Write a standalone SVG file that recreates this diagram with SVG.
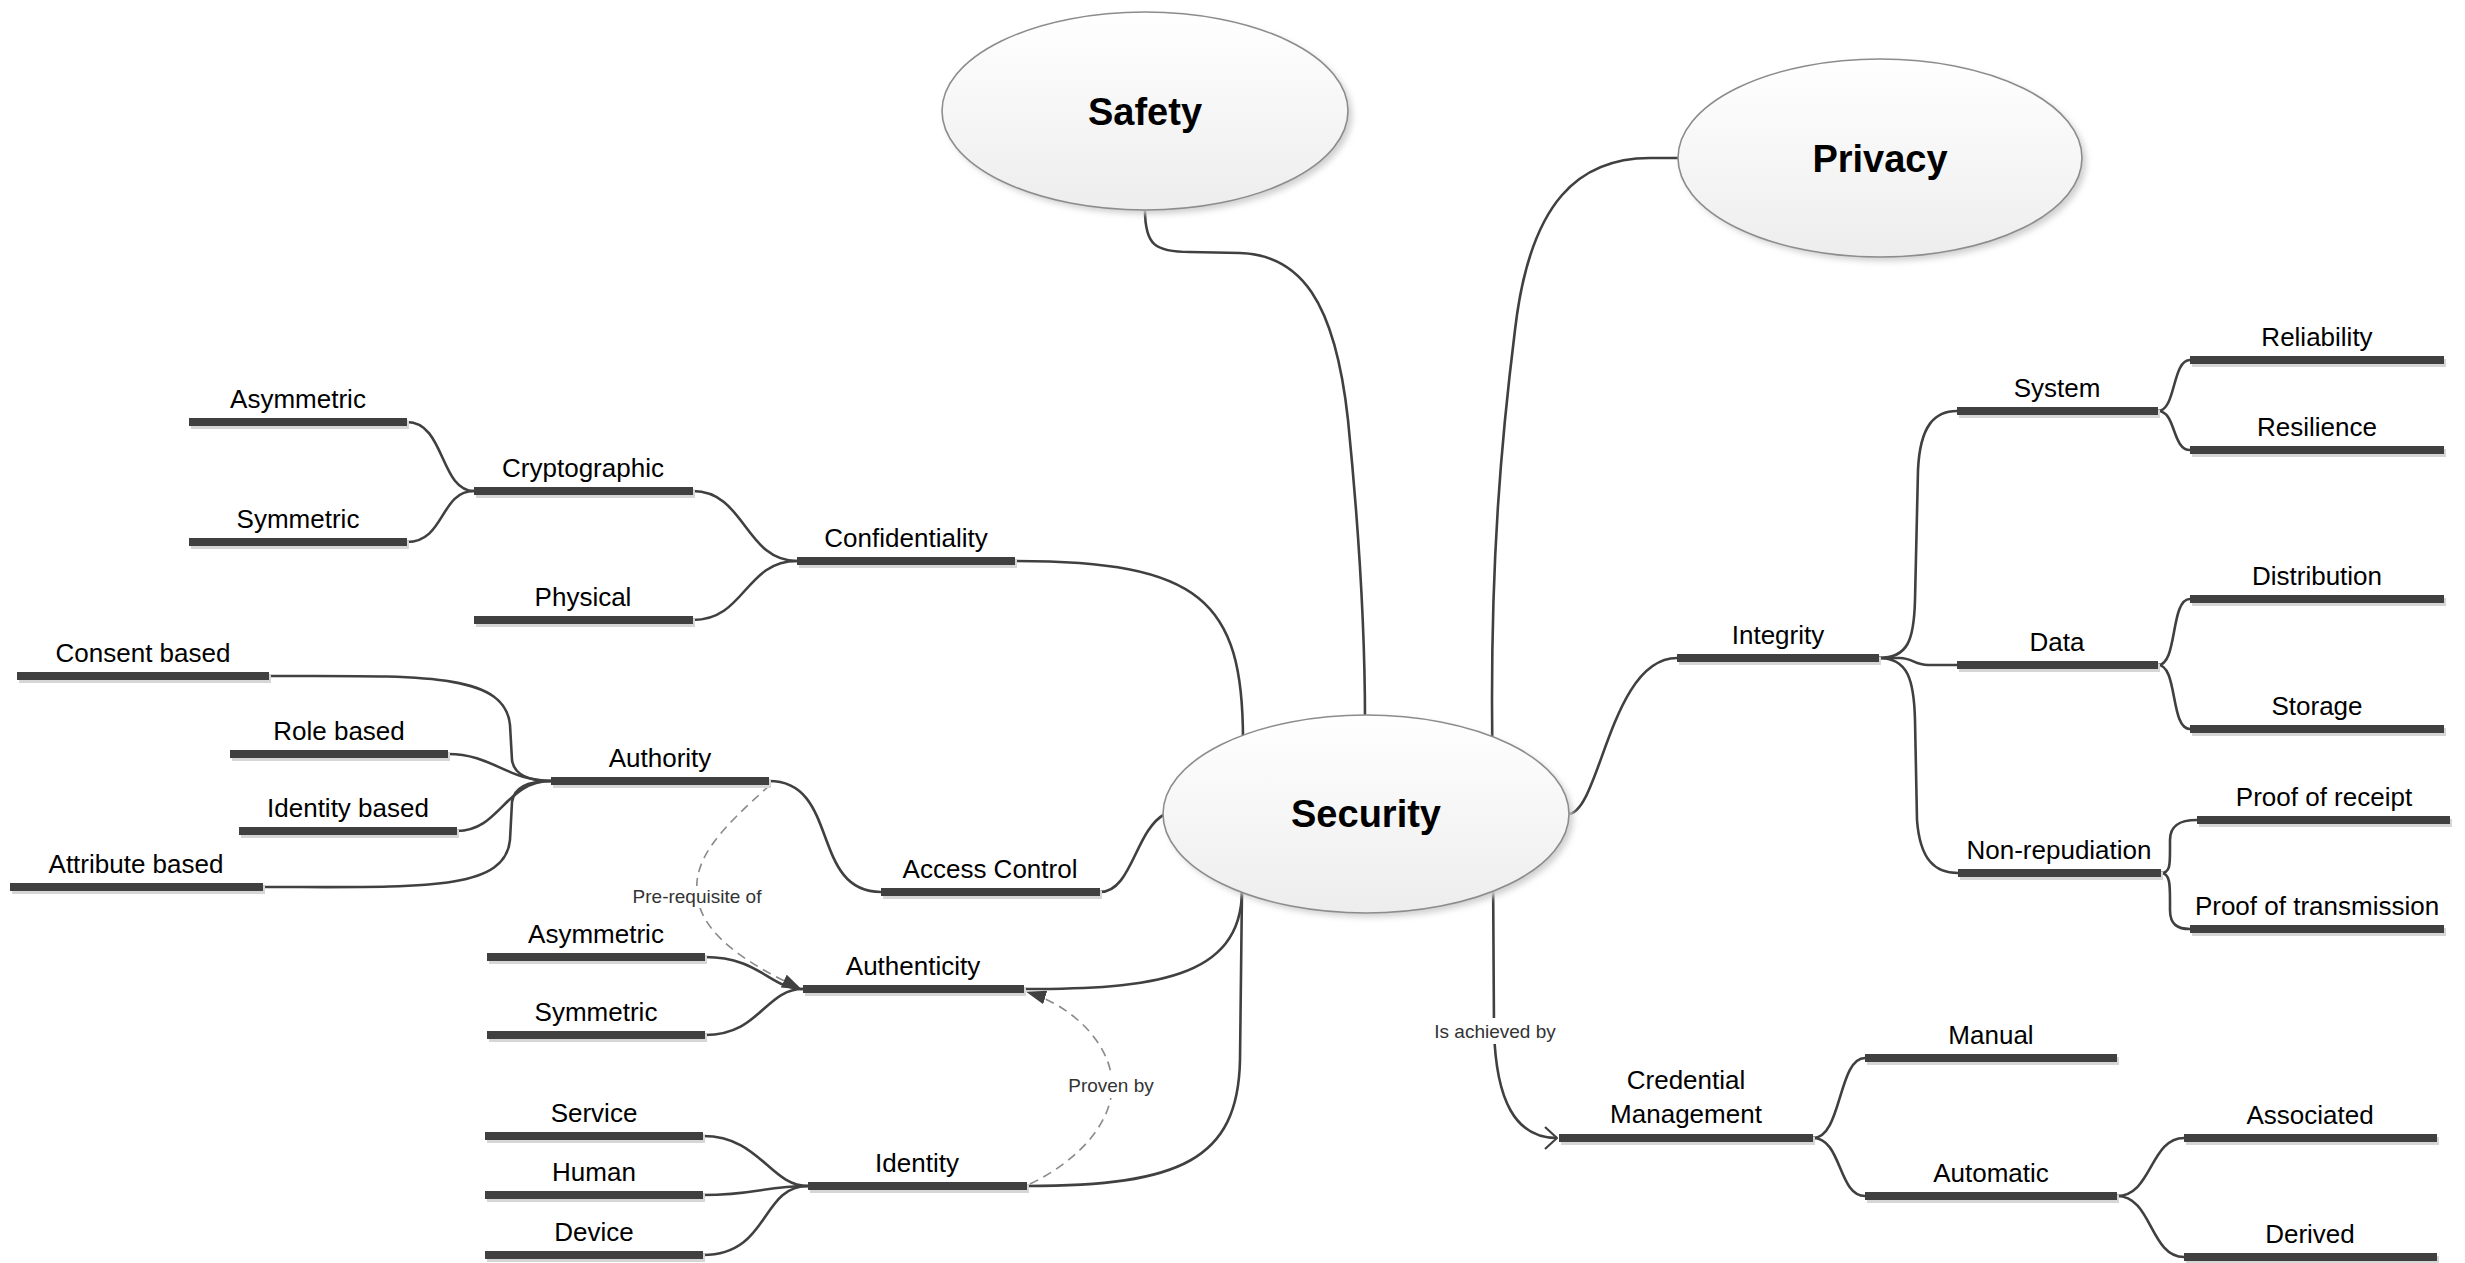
<svg xmlns="http://www.w3.org/2000/svg" width="2465" height="1263" viewBox="0 0 2465 1263">
  <style>
    .bar { fill: #404040; }
    .bsh { fill: #d6d6d6; }
    .lbl { font-family: "Liberation Sans", Arial, sans-serif; font-size: 26px; fill: #000; text-anchor: middle; }
    .big { font-family: "Liberation Sans", Arial, sans-serif; font-size: 38px; font-weight: bold; fill: #000; text-anchor: middle; }
    .note { font-family: "Liberation Sans", Arial, sans-serif; font-size: 19px; fill: #333; text-anchor: middle; }
    .link { fill: none; stroke: #404040; stroke-width: 2.6; }
    .rel { fill: none; stroke: #8a8a8a; stroke-width: 1.6; stroke-dasharray: 9 6; }
    .oval { fill: url(#ovalFill); stroke: #8c8c8c; stroke-width: 1.6; }
    .ovalsh { fill: #cfcfcf; filter: url(#soft); }
  </style>
  <defs>
    <linearGradient id="ovalFill" x1="0" y1="0" x2="0" y2="1">
      <stop offset="0" stop-color="#ffffff"/>
      <stop offset="1" stop-color="#ededed"/>
    </linearGradient>
    <filter id="soft" x="-10%" y="-10%" width="120%" height="120%">
      <feGaussianBlur stdDeviation="3"/>
    </filter>
    <marker id="solidHead" viewBox="0 0 20 14" refX="19" refY="7" markerWidth="20" markerHeight="14" markerUnits="userSpaceOnUse" orient="auto">
      <path d="M0,0 L20,7 L0,14 Z" fill="#404040"/>
    </marker>
    <marker id="openHead" viewBox="0 0 14 24" refX="13" refY="12" markerWidth="14" markerHeight="24" markerUnits="userSpaceOnUse" orient="auto">
      <path d="M1,1 L13,12 L1,23" fill="none" stroke="#404040" stroke-width="2.2"/>
    </marker>
  </defs>

  <rect x="0" y="0" width="2465" height="1263" fill="#ffffff"/>

  <!-- connectors -->
  <g id="connectors">
    <!-- left branch: confidentiality -->
    <path class="link" d="M407,422 C445,422 440,491 474,491"/>
    <path class="link" d="M407,542 C445,542 440,491 474,491"/>
    <path class="link" d="M693,491 C745,491 745,561 797,561"/>
    <path class="link" d="M693,620 C745,620 745,561 797,561"/>
    <path class="link" d="M1015,561 C1200,561 1243,600 1243,740"/>
    <!-- authority -->
    <path class="link" d="M269,676 C420,676 505,672 510,725 L512,760 C514,775 530,781 551,781"/>
    <path class="link" d="M448,754 C492,754 508,781 551,781"/>
    <path class="link" d="M457,831 C500,831 505,781 551,781"/>
    <path class="link" d="M263,887 C420,887 505,892 510,840 L512,802 C514,786 530,781 551,781"/>
    <path class="link" d="M769,781 C840,781 810,892 881,892"/>
    <path class="link" d="M1100,892 C1132,892 1135,830 1165,814"/>
    <!-- authenticity and identity -->
    <path class="link" d="M705,957 C760,957 770,989 803,989"/>
    <path class="link" d="M705,1035 C760,1035 765,989 803,989"/>
    <path class="link" d="M1242,890 C1242,980 1150,989 1024,989"/>
    <path class="link" d="M703,1136 C760,1136 770,1186 808,1186"/>
    <path class="link" d="M703,1195 C755,1195 765,1186 808,1186"/>
    <path class="link" d="M703,1255 C770,1255 760,1186 808,1186"/>
    <path class="link" d="M1242,890 L1240,1060 C1238,1160 1180,1186 1027,1186"/>
    <!-- safety -->
    <path class="link" d="M1145,210 C1145,245 1155,252 1190,252 L1240,253 C1300,255 1335,300 1348,420 C1360,540 1365,650 1365,720"/>
    <!-- privacy to credential management, behind security -->
    <path class="link" d="M1679,158 L1650,158 C1580,158 1530,200 1515,330 C1500,450 1492,560 1492,700 L1494,1030 C1496,1100 1515,1138 1557,1138" marker-end="url(#openHead)"/>
    <!-- right branch: integrity -->
    <path class="link" d="M1568,814 C1600,814 1610,658 1677,658"/>
    <path class="link" d="M1879,658 C1908,658 1914,640 1915,600 L1918,470 C1920,425 1935,411 1957,411"/>
    <path class="link" d="M1879,658 L1900,658 C1912,658 1915,665 1928,665 L1957,665"/>
    <path class="link" d="M1879,658 C1908,658 1914,680 1915,720 L1917,820 C1920,860 1935,873 1958,873"/>
    <path class="link" d="M2158,411 C2176,411 2172,360 2190,360"/>
    <path class="link" d="M2158,411 C2176,411 2172,450 2190,450"/>
    <path class="link" d="M2158,665 C2178,665 2170,599 2190,599"/>
    <path class="link" d="M2158,665 C2178,665 2170,729 2190,729"/>
    <path class="link" d="M2161,873 C2170,873 2170,865 2170,850 L2170,840 C2170,825 2180,820 2197,820"/>
    <path class="link" d="M2161,873 C2170,873 2170,885 2170,900 L2170,910 C2170,925 2178,929 2190,929"/>
    <!-- credential management -->
    <path class="link" d="M1813,1138 C1842,1138 1838,1058 1865,1058"/>
    <path class="link" d="M1813,1138 C1842,1138 1838,1196 1865,1196"/>
    <path class="link" d="M2117,1196 C2152,1196 2150,1138 2184,1138"/>
    <path class="link" d="M2117,1196 C2152,1196 2150,1257 2184,1257"/>
    <!-- relations -->
    <path class="rel" d="M770,785 C720,830 690,860 698,900 C705,940 760,970 801,989" marker-end="url(#solidHead)"/>
    <path class="rel" d="M1030,1184 C1080,1160 1115,1120 1112,1080 C1108,1040 1070,1005 1027,992" marker-end="url(#solidHead)"/>
  </g>

  <!-- connector labels -->
  <g id="connector-labels">
    <rect x="624" y="886" width="147" height="22" fill="#ffffff"/>
    <text class="note" x="697" y="903">Pre-requisite of</text>
    <rect x="1064" y="1074" width="94" height="24" fill="#ffffff"/>
    <text class="note" x="1111" y="1092">Proven by</text>
    <rect x="1430" y="1018" width="130" height="26" fill="#ffffff"/>
    <text class="note" x="1495" y="1038">Is achieved by</text>
  </g>

  <!-- central topics -->
  <g id="safety">
    <ellipse class="ovalsh" cx="1149" cy="115" rx="203" ry="99"/>
    <ellipse class="oval" cx="1145" cy="111" rx="203" ry="99"/>
    <text class="big" x="1145" y="125">Safety</text>
  </g>
  <g id="privacy">
    <ellipse class="ovalsh" cx="1884" cy="162" rx="202" ry="99"/>
    <ellipse class="oval" cx="1880" cy="158" rx="202" ry="99"/>
    <text class="big" x="1880" y="172">Privacy</text>
  </g>
  <g id="security">
    <ellipse class="ovalsh" cx="1370" cy="818" rx="203" ry="99"/>
    <ellipse class="oval" cx="1366" cy="814" rx="203" ry="99"/>
    <text class="big" x="1366" y="827">Security</text>
  </g>

  <!-- left topics -->
  <g id="crypto-asymmetric"><rect class="bsh" x="191" y="421" width="218" height="8"/><rect class="bar" x="189" y="418" width="218" height="8"/><text class="lbl" x="298" y="408">Asymmetric</text></g>
  <g id="crypto-symmetric"><rect class="bsh" x="191" y="541" width="218" height="8"/><rect class="bar" x="189" y="538" width="218" height="8"/><text class="lbl" x="298" y="528">Symmetric</text></g>
  <g id="cryptographic"><rect class="bsh" x="476" y="490" width="219" height="8"/><rect class="bar" x="474" y="487" width="219" height="8"/><text class="lbl" x="583" y="477">Cryptographic</text></g>
  <g id="physical"><rect class="bsh" x="476" y="619" width="219" height="8"/><rect class="bar" x="474" y="616" width="219" height="8"/><text class="lbl" x="583" y="606">Physical</text></g>
  <g id="confidentiality"><rect class="bsh" x="799" y="560" width="218" height="8"/><rect class="bar" x="797" y="557" width="218" height="8"/><text class="lbl" x="906" y="547">Confidentiality</text></g>

  <g id="consent-based"><rect class="bsh" x="19" y="675" width="252" height="8"/><rect class="bar" x="17" y="672" width="252" height="8"/><text class="lbl" x="143" y="662">Consent based</text></g>
  <g id="role-based"><rect class="bsh" x="232" y="753" width="218" height="8"/><rect class="bar" x="230" y="750" width="218" height="8"/><text class="lbl" x="339" y="740">Role based</text></g>
  <g id="authority"><rect class="bsh" x="553" y="780" width="218" height="8"/><rect class="bar" x="551" y="777" width="218" height="8"/><text class="lbl" x="660" y="767">Authority</text></g>
  <g id="identity-based"><rect class="bsh" x="241" y="830" width="218" height="8"/><rect class="bar" x="239" y="827" width="218" height="8"/><text class="lbl" x="348" y="817">Identity based</text></g>
  <g id="attribute-based"><rect class="bsh" x="12" y="886" width="253" height="8"/><rect class="bar" x="10" y="883" width="253" height="8"/><text class="lbl" x="136" y="873">Attribute based</text></g>
  <g id="access-control"><rect class="bsh" x="883" y="891" width="219" height="8"/><rect class="bar" x="881" y="888" width="219" height="8"/><text class="lbl" x="990" y="878">Access Control</text></g>

  <g id="auth-asymmetric"><rect class="bsh" x="489" y="956" width="218" height="8"/><rect class="bar" x="487" y="953" width="218" height="8"/><text class="lbl" x="596" y="943">Asymmetric</text></g>
  <g id="auth-symmetric"><rect class="bsh" x="489" y="1034" width="218" height="8"/><rect class="bar" x="487" y="1031" width="218" height="8"/><text class="lbl" x="596" y="1021">Symmetric</text></g>
  <g id="authenticity"><rect class="bsh" x="805" y="988" width="221" height="8"/><rect class="bar" x="803" y="985" width="221" height="8"/><text class="lbl" x="913" y="975">Authenticity</text></g>

  <g id="service"><rect class="bsh" x="487" y="1135" width="218" height="8"/><rect class="bar" x="485" y="1132" width="218" height="8"/><text class="lbl" x="594" y="1122">Service</text></g>
  <g id="human"><rect class="bsh" x="487" y="1194" width="218" height="8"/><rect class="bar" x="485" y="1191" width="218" height="8"/><text class="lbl" x="594" y="1181">Human</text></g>
  <g id="device"><rect class="bsh" x="487" y="1254" width="218" height="8"/><rect class="bar" x="485" y="1251" width="218" height="8"/><text class="lbl" x="594" y="1241">Device</text></g>
  <g id="identity"><rect class="bsh" x="810" y="1185" width="219" height="8"/><rect class="bar" x="808" y="1182" width="219" height="8"/><text class="lbl" x="917" y="1172">Identity</text></g>

  <!-- right topics -->
  <g id="integrity"><rect class="bsh" x="1679" y="657" width="202" height="8"/><rect class="bar" x="1677" y="654" width="202" height="8"/><text class="lbl" x="1778" y="644">Integrity</text></g>
  <g id="system"><rect class="bsh" x="1959" y="410" width="201" height="8"/><rect class="bar" x="1957" y="407" width="201" height="8"/><text class="lbl" x="2057" y="397">System</text></g>
  <g id="data"><rect class="bsh" x="1959" y="664" width="201" height="8"/><rect class="bar" x="1957" y="661" width="201" height="8"/><text class="lbl" x="2057" y="651">Data</text></g>
  <g id="non-repudiation"><rect class="bsh" x="1960" y="872" width="203" height="8"/><rect class="bar" x="1958" y="869" width="203" height="8"/><text class="lbl" x="2059" y="859">Non-repudiation</text></g>
  <g id="reliability"><rect class="bsh" x="2192" y="359" width="254" height="8"/><rect class="bar" x="2190" y="356" width="254" height="8"/><text class="lbl" x="2317" y="346">Reliability</text></g>
  <g id="resilience"><rect class="bsh" x="2192" y="449" width="254" height="8"/><rect class="bar" x="2190" y="446" width="254" height="8"/><text class="lbl" x="2317" y="436">Resilience</text></g>
  <g id="distribution"><rect class="bsh" x="2192" y="598" width="254" height="8"/><rect class="bar" x="2190" y="595" width="254" height="8"/><text class="lbl" x="2317" y="585">Distribution</text></g>
  <g id="storage"><rect class="bsh" x="2192" y="728" width="254" height="8"/><rect class="bar" x="2190" y="725" width="254" height="8"/><text class="lbl" x="2317" y="715">Storage</text></g>
  <g id="proof-of-receipt"><rect class="bsh" x="2199" y="819" width="253" height="8"/><rect class="bar" x="2197" y="816" width="253" height="8"/><text class="lbl" x="2324" y="806">Proof of receipt</text></g>
  <g id="proof-of-transmission"><rect class="bsh" x="2192" y="928" width="254" height="8"/><rect class="bar" x="2190" y="925" width="254" height="8"/><text class="lbl" x="2317" y="915">Proof of transmission</text></g>

  <g id="credential-management"><rect class="bsh" x="1561" y="1137" width="254" height="8"/><rect class="bar" x="1559" y="1134" width="254" height="8"/><text class="lbl" x="1686" y="1089">Credential</text><text class="lbl" x="1686" y="1123">Management</text></g>
  <g id="manual"><rect class="bsh" x="1867" y="1057" width="252" height="8"/><rect class="bar" x="1865" y="1054" width="252" height="8"/><text class="lbl" x="1991" y="1044">Manual</text></g>
  <g id="automatic"><rect class="bsh" x="1867" y="1195" width="252" height="8"/><rect class="bar" x="1865" y="1192" width="252" height="8"/><text class="lbl" x="1991" y="1182">Automatic</text></g>
  <g id="associated"><rect class="bsh" x="2186" y="1137" width="253" height="8"/><rect class="bar" x="2184" y="1134" width="253" height="8"/><text class="lbl" x="2310" y="1124">Associated</text></g>
  <g id="derived"><rect class="bsh" x="2186" y="1256" width="253" height="8"/><rect class="bar" x="2184" y="1253" width="253" height="8"/><text class="lbl" x="2310" y="1243">Derived</text></g>
</svg>
